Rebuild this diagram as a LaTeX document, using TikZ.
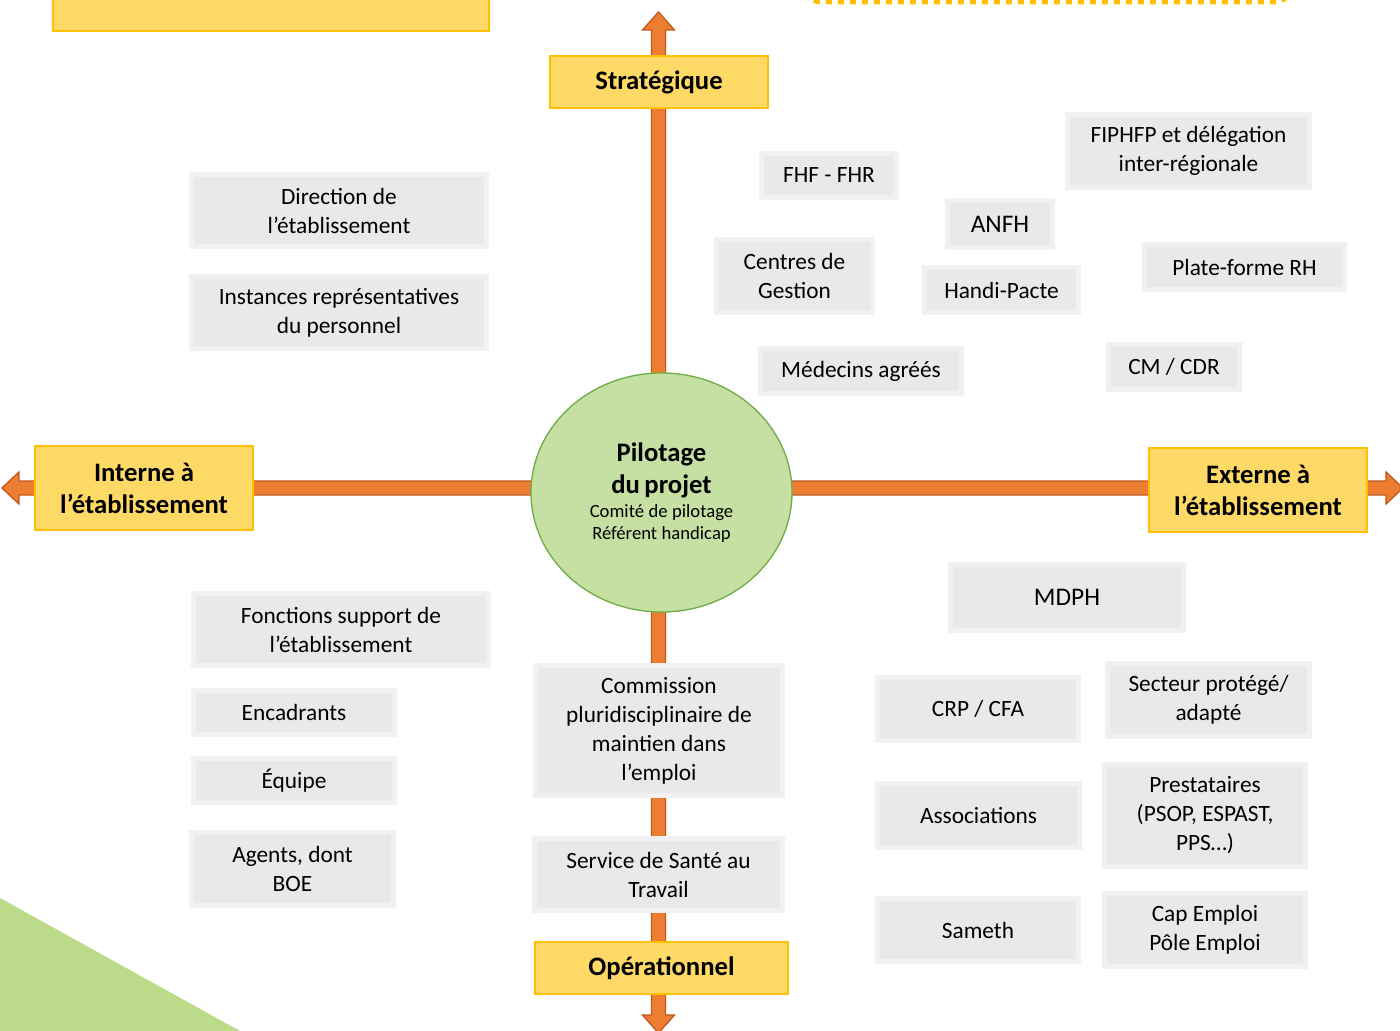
\documentclass[tikz,border=0pt]{standalone}
\usepackage{fontspec}
\setmainfont{Carlito}
\usetikzlibrary{calc,shapes.geometric}
\definecolor{gold}{HTML}{FFD966}
\definecolor{goldline}{HTML}{FFC000}
\definecolor{orng}{HTML}{ED7D31}
\definecolor{orngline}{HTML}{BF5B1E}
\definecolor{circfill}{HTML}{C5E0A2}
\definecolor{circline}{HTML}{70AD47}
\definecolor{trifill}{HTML}{BBDB8A}
\definecolor{greyin}{HTML}{E9E9E9}
\definecolor{greyout}{HTML}{F1F1F1}
\tikzset{
  area/.style n args={4}{at={({(#1+#3)/2},{(#2+#4)/2})},
    minimum width={(#3-#1)*0.75pt}, minimum height={(#4-#2)*0.75pt}},
  gbox/.style={inner sep=0pt, fill=greyout, align=center,
    font=\fontsize{17.5}{21.75}\selectfont,
    path picture={\fill[greyin] ($(path picture bounding box.north west)+(3.5pt,-3.5pt)$) rectangle ($(path picture bounding box.south east)+(-3.5pt,3.5pt)$);}},
  bigtxt/.style={font=\fontsize{19}{23}\selectfont},
  ylab/.style={inner sep=0pt, fill=gold, draw=goldline, line width=1.5pt, align=center,
    font=\bfseries\fontsize{20}{24}\selectfont},
  axis/.style={fill=orng, draw=orngline, line width=1pt, line join=miter},
}
\begin{document}
\begin{tikzpicture}[x=0.75pt,y=-0.75pt]
\useasboundingbox (0,0) rectangle (1400,1031);
\clip (0,0) rectangle (1400,1031);

% decorative elements
\fill[trifill] (0,898) -- (240,1031) -- (0,1031) -- cycle;
\draw[fill=gold, draw=goldline, line width=1.5pt] (53,-20) rectangle (489,31);
\draw[goldline, line width=3.75pt, dash pattern=on 4.5pt off 4.5pt, rounded corners=12pt] (805,-60) rectangle (1291,2);

% axes
\coordinate (vt) at (658.5,12);
\coordinate (vb) at (658.5,1033);
\coordinate (hl) at (2,488);
\coordinate (hr) at (1403,488);
\path[axis] ($(hl)+(17,-7)$) -- ($(hl)+(17,-16)$) -- (hl) -- ($(hl)+(17,16)$) -- ($(hl)+(17,7)$)
  -- ($(hr)+(-17,7)$) -- ($(hr)+(-17,16)$) -- (hr) -- ($(hr)+(-17,-16)$) -- ($(hr)+(-17,-7)$) -- cycle;
\path[axis] ($(vt)+(-7,18)$) -- ($(vt)+(-16,18)$) -- (vt) -- ($(vt)+(16,18)$) -- ($(vt)+(7,18)$)
  -- ($(vb)+(7,-18)$) -- ($(vb)+(16,-18)$) -- (vb) -- ($(vb)+(-16,-18)$) -- ($(vb)+(-7,-18)$) -- cycle;

% axis labels
\node[ylab, area={550}{56}{768}{108}] (strat) {Stratégique};
\node[ylab, area={535}{942}{788}{994}] (oper) {Opérationnel};
\node[ylab, area={35}{446}{253}{530}] (interne) {Interne à\\l’établissement};
\node[ylab, area={1149}{448}{1367}{532}] (externe) {Externe à\\l’établissement};

% centre
\node[ellipse, fill=circfill, draw=circline, line width=1pt, minimum width=195.75pt,
  minimum height=179.25pt, inner sep=0pt, text width=120pt, align=center] (pilot) at (661.5,492.5)
  {{\bfseries\fontsize{20}{24}\selectfont Pilotage\\du projet\par}
   \vspace{2pt}
   {\fontsize{14}{16.5}\selectfont Comité de pilotage\\Référent handicap\par}};

% internal
\node[gbox, area={189}{172}{489}{249}] (direction) {Direction de\\l’établissement};
\node[gbox, area={189}{274}{489}{351}] (instances) {Instances représentatives\\du personnel};
\node[gbox, area={191}{591}{491}{668}] (fonctions) {Fonctions support de\\l’établissement};
\node[gbox, area={191}{688}{397}{737}] (encadrants) {Encadrants};
\node[gbox, area={191}{756}{397}{805}] (equipe) {Équipe};
\node[gbox, area={189}{830}{396}{908}] (agents) {Agents, dont\\BOE};
\node[gbox, area={533}{663}{785}{798}] (commission) {Commission\\pluridisciplinaire de\\maintien dans\\l’emploi};
\node[gbox, area={532}{836}{785}{913}] (sst) {Service de Santé au\\Travail};

% external, strategic
\node[gbox, area={759}{151}{899}{200}] (fhf) {FHF - FHR};
\node[gbox, area={1065}{112}{1312}{190}] (fiphfp) {FIPHFP et délégation\\inter-régionale};
\node[gbox, bigtxt, area={945}{198}{1055}{250}] (anfh) {ANFH};
\node[gbox, area={714}{237}{875}{315}] (cdg) {Centres de\\Gestion};
\node[gbox, area={922}{265}{1081}{315}] (handi) {Handi-Pacte};
\node[gbox, area={1142}{242}{1347}{292}] (plate) {Plate-forme RH};
\node[gbox, area={758}{346}{964}{396}] (medecins) {Médecins agréés};
\node[gbox, area={1106}{342}{1242}{392}] (cm) {CM / CDR};

% external, operational
\node[gbox, bigtxt, area={948}{562}{1186}{633}] (mdph) {MDPH};
\node[gbox, area={875}{675}{1081}{743}] (crp) {CRP / CFA};
\node[gbox, area={1105}{661}{1312}{739}] (secteur) {Secteur protégé/\\adapté};
\node[gbox, area={875}{781}{1082}{850}] (assoc) {Associations};
\node[gbox, area={1102}{762}{1308}{869}] (presta) {Prestataires\\(PSOP, ESPAST,\\PPS…)};
\node[gbox, area={875}{896}{1081}{964}] (sameth) {Sameth};
\node[gbox, area={1102}{891}{1308}{969}] (cap) {Cap Emploi\\Pôle Emploi};
\end{tikzpicture}
\end{document}
